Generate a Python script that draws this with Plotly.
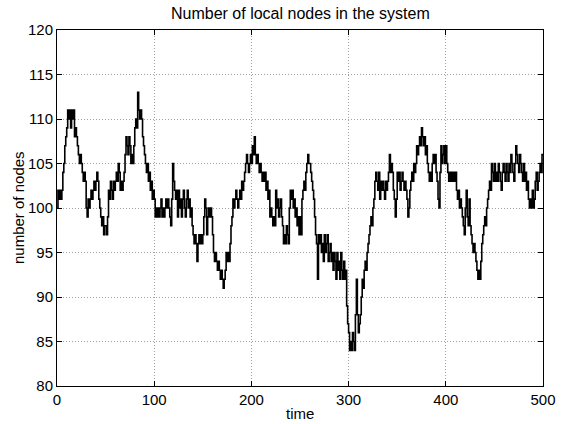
import plotly.graph_objects as go

time = list(range(0, 501))

nodes = [
    100, 102, 101, 102, 101, 102, 104, 105, 107, 108,
    109, 111, 110, 111, 109, 111, 110, 111, 108, 109,
    108, 107, 106, 105, 106, 105, 104, 103, 104, 103,
    100, 99, 101, 100, 101, 102, 101, 102, 103, 102,
    103, 104, 103, 101, 100, 99, 98, 99, 97, 98,
    98, 97, 99, 102, 101, 103, 102, 101, 103, 102,
    103, 104, 103, 105, 104, 102, 103, 102, 103, 104,
    106, 108, 107, 106, 108, 107, 105, 106, 105, 107,
    109, 110, 109, 113, 111, 110, 111, 110, 108, 107,
    106, 105, 104, 105, 103, 104, 102, 103, 101, 102,
    101, 99, 100, 99, 100, 99, 100, 101, 99, 100,
    99, 100, 101, 100, 101, 100, 99, 98, 101, 105,
    103, 102, 101, 102, 99, 102, 100, 101, 99, 101,
    102, 100, 99, 101, 102, 100, 101, 99, 100, 98,
    97, 96, 97, 96, 94, 96, 97, 96, 97, 96,
    97, 99, 101, 100, 97, 99, 100, 99, 100, 99,
    97, 95, 94, 95, 94, 93, 94, 93, 92, 93,
    92, 91, 92, 93, 95, 94, 95, 94, 96, 98,
    99, 101, 100, 101, 102, 101, 100, 101, 102, 101,
    103, 102, 103, 104, 105, 106, 105, 104, 105, 106,
    105, 107, 106, 108, 106, 105, 106, 105, 104, 105,
    104, 103, 104, 103, 104, 102, 103, 101, 102, 99,
    100, 99, 98, 99, 98, 102, 100, 101, 99, 100,
    101, 99, 98, 96, 97, 96, 98, 97, 96, 100,
    102, 101, 102, 100, 101, 99, 100, 98, 99, 97,
    99, 97, 101, 102, 103, 102, 104, 105, 106, 105,
    105, 104, 103, 102, 101, 99, 97, 96, 92, 97,
    96, 97, 95, 96, 94, 97, 95, 96, 97, 94,
    95, 96, 94, 95, 93, 95, 94, 92, 95, 93,
    94, 92, 95, 93, 92, 94, 92, 93, 89, 87,
    86, 84, 85, 84, 86, 85, 84, 88, 92, 88,
    86, 87, 88, 90, 92, 91, 93, 94, 93, 95,
    96, 97, 98, 99, 98, 100, 101, 103, 104, 103,
    102, 104, 101, 103, 102, 103, 102, 101, 103, 102,
    103, 104, 106, 104, 105, 104, 102, 101, 99, 101,
    104, 103, 104, 102, 103, 104, 103, 102, 103, 102,
    101, 99, 100, 102, 103, 104, 103, 105, 104, 105,
    107, 106, 107, 108, 107, 109, 108, 107, 108, 106,
    107, 105, 104, 103, 104, 103, 105, 106, 105, 106,
    104, 103, 101, 100, 104, 107, 105, 106, 107, 105,
    107, 105, 104, 103, 104, 103, 104, 103, 104, 103,
    104, 102, 101, 102, 100, 101, 100, 99, 98, 97,
    100, 102, 99, 98, 101, 98, 97, 96, 95, 96,
    95, 94, 93, 92, 93, 92, 94, 96, 97, 98,
    99, 98, 100, 101, 102, 103, 102, 105, 104, 103,
    105, 103, 104, 103, 105, 104, 103, 102, 104, 105,
    104, 103, 105, 104, 103, 105, 104, 106, 105, 104,
    103, 105, 107, 106, 105, 104, 106, 105, 104, 103,
    105, 103, 104, 102, 103, 101, 100, 101, 100, 102,
    100, 101, 103, 104, 102, 103, 104, 105, 104, 106,
    106,
]

x_ticks = [0, 100, 200, 300, 400, 500]
y_ticks = [80, 85, 90, 95, 100, 105, 110, 115, 120]

title_text = "Number of local nodes in the system"
x_label = "time"
y_label = "number of nodes"

FONT = "Liberation Sans, Arial, Helvetica, sans-serif"

fig = go.Figure()
fig.add_trace(go.Scatter(
    x=time, y=nodes, mode="lines",
    line=dict(color="black", width=1.6, shape="hv"),
    showlegend=False, hoverinfo="skip",
))

axis_common = dict(
    showline=True, linecolor="black", linewidth=1, mirror="ticks",
    ticks="inside", ticklen=5, tickcolor="black", tickwidth=1,
    showgrid=True, gridcolor="#a0a0a0", griddash="1px,2px", gridwidth=1,
    zeroline=False,
    tickfont=dict(family=FONT, size=15, color="black"),
)

fig.update_xaxes(
    range=[0, 500], tickmode="array", tickvals=x_ticks,
    ticktext=[str(v) for v in x_ticks],
    **axis_common,
)
fig.update_yaxes(
    range=[80, 120], tickmode="array", tickvals=y_ticks,
    ticktext=[str(v) for v in y_ticks],
    **axis_common,
)

fig.update_layout(
    width=568, height=424,
    margin=dict(l=57, r=13, t=30, b=38),
    paper_bgcolor="white", plot_bgcolor="white",
    font=dict(family=FONT, color="black"),
    annotations=[
        dict(text=title_text, x=0.5, y=1, xref="paper", yref="paper",
             xanchor="center", yanchor="middle", yshift=17, showarrow=False,
             font=dict(family=FONT, size=16, color="black")),
        dict(text=x_label, x=0.5, y=0, xref="paper", yref="paper",
             xanchor="center", yanchor="middle", yshift=-27, showarrow=False,
             font=dict(family=FONT, size=15, color="black")),
        dict(text=y_label, x=0, y=0.5, xref="paper", yref="paper",
             xanchor="center", yanchor="middle", xshift=-39, textangle=-90,
             showarrow=False,
             font=dict(family=FONT, size=15, color="black")),
    ],
)

fig.write_html("out.html")
